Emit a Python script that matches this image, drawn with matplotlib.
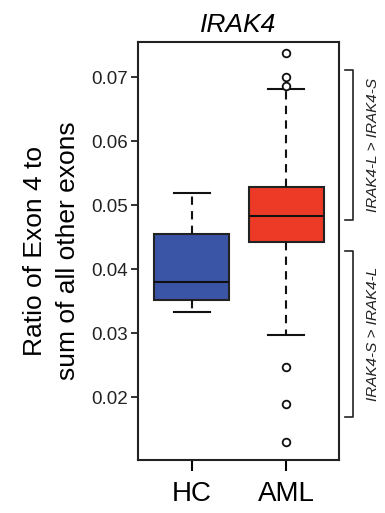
import matplotlib
matplotlib.use("Agg")
import matplotlib.pyplot as plt

plt.rcParams["font.family"] = ["Liberation Sans", "DejaVu Sans"]

groups = ["HC", "AML"]
whislo = [0.0333, 0.0298]
q1 = [0.0352, 0.0442]
med = [0.0380, 0.0483]
q3 = [0.0456, 0.0528]
whishi = [0.0520, 0.0681]
fliers = [[], [0.0738, 0.0700, 0.0686, 0.0248, 0.0190, 0.0131]]
colors = ["#3b55a6", "#ec3a26"]

yticks = [0.02, 0.03, 0.04, 0.05, 0.06, 0.07]
brackets = [(0.0477, 0.0711, "IRAK4-L > IRAK4-S"),
            (0.0169, 0.0428, "IRAK4-S > IRAK4-L")]

fig = plt.figure(figsize=(3.85, 5.13), dpi=100)
ax = fig.add_axes([0.358, 0.103, 0.523, 0.815])

stats = []
for i, g in enumerate(groups):
    stats.append(dict(label=g, whislo=whislo[i], q1=q1[i], med=med[i],
                      q3=q3[i], whishi=whishi[i], fliers=fliers[i]))

bp = ax.bxp(stats, positions=[1, 2], widths=0.79, patch_artist=True,
            boxprops=dict(linewidth=1.5, edgecolor="#222222"),
            medianprops=dict(color="#111111", linewidth=1.5),
            whiskerprops=dict(color="#111111", linewidth=1.5,
                              linestyle=(0, (4, 3))),
            capprops=dict(color="#111111", linewidth=1.5),
            capwidths=0.38,
            flierprops=dict(marker="o", markersize=5.5, markerfacecolor="white",
                            markeredgecolor="#111111", markeredgewidth=1.3))
for patch, c in zip(bp["boxes"], colors):
    patch.set_facecolor(c)

ax.set_xlim(0.43, 2.56)
ax.set_ylim(0.0102, 0.0755)
ax.set_yticks(yticks)
ax.set_yticklabels([f"{t:.2f}" for t in yticks])
ax.tick_params(axis="y", labelsize=13.5, length=5, width=1.3, pad=2,
               colors="#222222")
ax.tick_params(axis="x", labelsize=20, length=8, width=1.5, pad=7)
for s in ax.spines.values():
    s.set_linewidth(1.5)
    s.set_color("#222222")

ax.set_title("IRAK4", fontsize=19, style="italic", pad=7)
ax.set_ylabel("Ratio of Exon 4 to\nsum of all other exons", fontsize=19,
              labelpad=8, linespacing=1.5)

trans = ax.get_yaxis_transform()
for lo, hi, txt in brackets:
    ax.plot([1.03, 1.07, 1.07, 1.03], [hi, hi, lo, lo], color="#222222",
            lw=1.2, transform=trans, clip_on=False)
    ax.text(1.17, (lo + hi) / 2, txt, rotation=90, ha="center", va="center",
            fontsize=11, style="italic", transform=trans, color="#222222")

fig.savefig("out.png", dpi=100)
